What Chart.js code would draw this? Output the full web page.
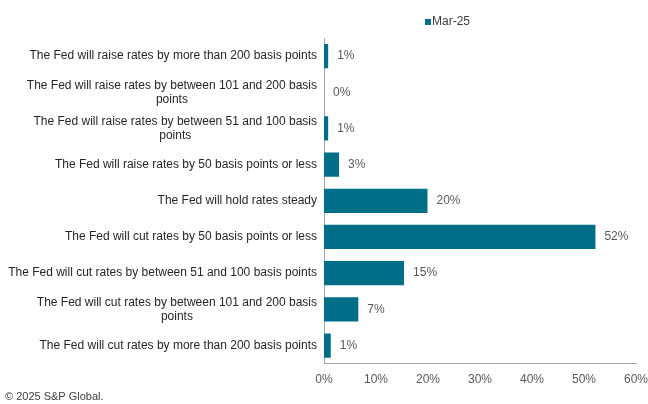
<!DOCTYPE html>
<html>
<head>
<meta charset="utf-8">
<script src="https://cdn.jsdelivr.net/npm/chart.js@4/dist/chart.umd.min.js"></script>
<style>
  html, body { margin: 0; padding: 0; background: #fff; }
  #wrap { width: 648px; height: 404px; position: relative; }
</style>
</head>
<body>
<div id="wrap"><canvas id="mycanvas" width="648" height="404"></canvas></div>
<script>
// ** Fed rate expectations, horizontal bars

var categories = [
	['The Fed will raise rates by more than 200 basis points'],
	['The Fed will raise rates by between 101 and 200 basis', 'points'],
	['The Fed will raise rates by between 51 and 100 basis', 'points'],
	['The Fed will raise rates by 50 basis points or less'],
	['The Fed will hold rates steady'],
	['The Fed will cut rates by 50 basis points or less'],
	['The Fed will cut rates by between 51 and 100 basis points'],
	['The Fed will cut rates by between 101 and 200 basis', 'points'],
	['The Fed will cut rates by more than 200 basis points']
];
var seriesName = 'Mar-25';
var shares = [0.8, 0, 0.8, 2.9, 19.9, 52.2, 15.4, 6.6, 1.3];
var xTicks = [0, 10, 20, 30, 40, 50, 60];

var teal = '#006e87';
var fontFam = '"Liberation Sans", Arial, sans-serif';

// category labels: block right-aligned to the axis, lines centred inside the block
var catLabels = {
	id: 'catLabels',
	afterDraw: function(chart) {
		var ctx = chart.ctx;
		var yScale = chart.scales.y;
		var right = chart.chartArea.left - 7;
		ctx.save();
		ctx.font = '12px ' + fontFam;
		ctx.fillStyle = '#262626';
		ctx.textAlign = 'center';
		ctx.textBaseline = 'middle';
		for (var i in categories) {
			var lines = categories[i];
			var w = 0;
			for (var j in lines) w = Math.max(w, ctx.measureText(lines[j]).width);
			var cy = yScale.getPixelForValue(Number(i));
			var y0 = cy - (lines.length - 1) * 14 / 2;
			for (var k = 0; k < lines.length; k++) {
				ctx.fillText(lines[k], right - w / 2, y0 + k * 14);
			}
		}
		ctx.restore();
	}
};

// value labels at the end of each bar
var valueLabels = {
	id: 'valueLabels',
	afterDatasetsDraw: function(chart) {
		var ctx = chart.ctx;
		var meta = chart.getDatasetMeta(0);
		ctx.save();
		ctx.font = '12px ' + fontFam;
		ctx.fillStyle = '#595959';
		ctx.textAlign = 'left';
		ctx.textBaseline = 'middle';
		meta.data.forEach(function(bar, i) {
			ctx.fillText(Math.round(shares[i]) + '%', bar.x + 9, bar.y);
		});
		ctx.restore();
	}
};

// small legend above the plot, plus footer
var topLegend = {
	id: 'topLegend',
	afterDraw: function(chart) {
		var ctx = chart.ctx;
		ctx.save();
		ctx.fillStyle = teal;
		ctx.fillRect(425, 19, 6, 6);
		ctx.font = '12px ' + fontFam;
		ctx.fillStyle = '#404040';
		ctx.textAlign = 'left';
		ctx.textBaseline = 'middle';
		ctx.fillText(seriesName, 432, 22);
		ctx.font = '11px ' + fontFam;
		ctx.textBaseline = 'alphabetic';
		ctx.fillText('\u00a9 2025 S&P Global.', 5, 400);
		ctx.restore();
	}
};

var ctx = document.getElementById('mycanvas');

var barGraph = new Chart(ctx, {
	type: 'bar',
	data: {
		labels: categories.map(function(l) { return l.join(' '); }),
		datasets: [{
			label: seriesName,
			backgroundColor: teal,
			borderWidth: 0,
			barPercentage: 0.67,
			categoryPercentage: 1,
			data: shares
		}]
	},
	options: {
		indexAxis: 'y',
		responsive: false,
		animation: false,
		layout: {
			padding: { left: 324, right: 12, top: 38, bottom: 8 }
		},
		plugins: {
			legend: { display: false },
			tooltip: { enabled: false }
		},
		scales: {
			x: {
				min: 0,
				max: 60,
				afterBuildTicks: function(axis) {
					axis.ticks = xTicks.map(function(v) { return { value: v }; });
				},
				afterFit: function(axis) {
					axis.paddingRight = 0;
					axis.paddingLeft = 0;
				},
				grid: { display: false, drawTicks: false },
				border: { display: true, color: '#a6a6a6', width: 1 },
				ticks: {
					padding: 9,
					color: '#595959',
					font: { family: fontFam, size: 12 },
					callback: function(v) { return v + '%'; }
				}
			},
			y: {
				grid: { display: false, drawTicks: false },
				border: { display: true, color: '#a6a6a6', width: 1 },
				ticks: { display: false }
			}
		}
	},
	plugins: [catLabels, valueLabels, topLegend]
});
</script>
</body>
</html>
